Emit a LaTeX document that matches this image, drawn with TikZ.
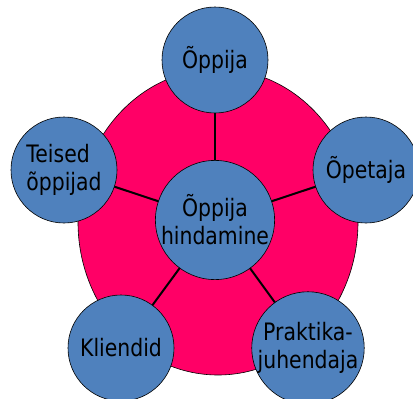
\documentclass[tikz,border=0pt]{standalone}
\usepackage{fontspec}
\setmainfont{DejaVu Sans}
\newfontfamily\labelfont[FakeStretch=0.85]{DejaVu Sans}
\usetikzlibrary{shapes.geometric}
\definecolor{pinkbg}{RGB}{255,0,102}
\definecolor{bluecirc}{RGB}{79,129,189}
\begin{document}
\begin{tikzpicture}[x=1pt,y=-1pt,
  bubble/.style={circle,draw=black,line width=0.6pt,fill=bluecirc,minimum size=106pt,inner sep=0pt,
    font=\labelfont\fontsize{24}{28}\selectfont,text=black},
  spoke/.style={line width=2pt,black}]
\useasboundingbox (0,0) rectangle (413,399);
\clip (0,0) rectangle (413,399);
\fill[white] (0,0) rectangle (413,399);
\node[ellipse,draw=black,line width=0.6pt,fill=pinkbg,minimum width=280pt,minimum height=306pt,inner sep=0pt] (bg) at (218,222) {};
\coordinate (cc) at (215,220);
\coordinate (ct) at (215,60);
\coordinate (cr) at (366,170);
\coordinate (cl) at (64,170);
\coordinate (cbl) at (121,348);
\coordinate (cbr) at (308,348);
\draw[spoke] (cc) -- (ct);
\draw[spoke] (cc) -- (cr);
\draw[spoke] (cc) -- (cl);
\draw[spoke] (cc) -- (cbl);
\draw[spoke] (cc) -- (cbr);
\node[bubble] (top) at (ct) {Õppija};
\node[bubble] (right) at (cr) {Õpetaja};
\node[bubble,align=left] (left) at (cl) {Teised\\õppijad};
\node[bubble] (bl) at (cbl) {Kliendid};
\node[bubble,align=center] (br) at (cbr) {Praktika-\\juhendaja};
\node[bubble,align=center] (center) at (cc) {Õppija\\hindamine};
\end{tikzpicture}
\end{document}
